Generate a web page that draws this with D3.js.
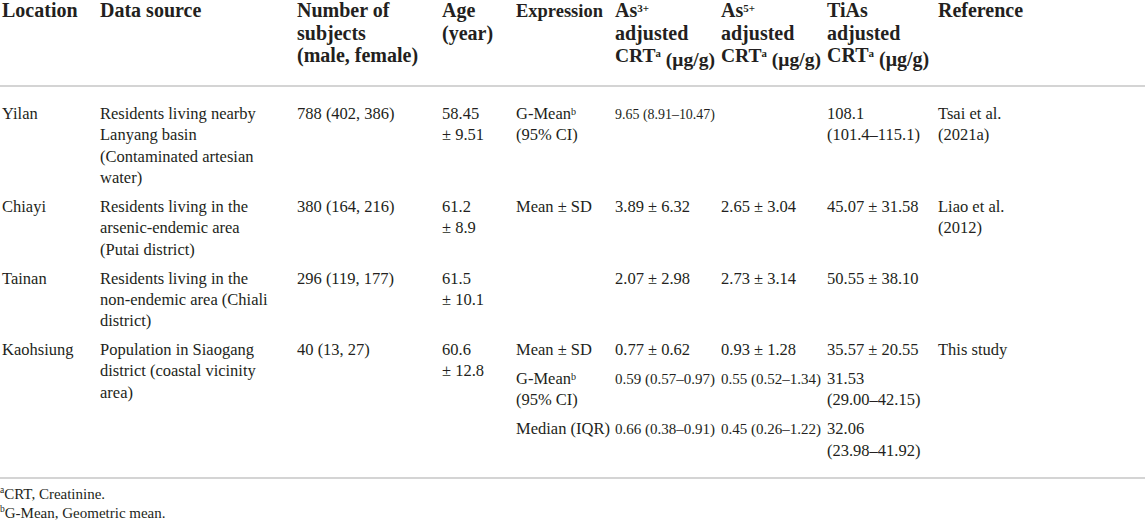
<!DOCTYPE html>
<html>
<head>
<meta charset="utf-8">
<script src="https://cdn.jsdelivr.net/npm/d3@7"></script>
<style>
  html, body { margin: 0; padding: 0; background: #fff; }
  svg { display: block; }
  text { font-family: "Liberation Serif", "Times New Roman", serif; fill: #231f20; }
</style>
</head>
<body>
<svg id="chart" width="1145" height="523"></svg>
<script>
// ---------- DATA ----------
const columns = ["location", "source", "subjects", "age", "expression", "as3", "as5", "tias", "reference"];
const headers = [
  ["Location"],
  ["Data source"],
  ["Number of", "subjects", "(male, female)"],
  ["Age", "(year)"],
  ["Expression"],
  ["As^{3+}", "adjusted", "CRT^{a} (μg/g)"],
  ["As^{5+}", "adjusted", "CRT^{a} (μg/g)"],
  ["TiAs", "adjusted", "CRT^{a} (μg/g)"],
  ["Reference"]
];
const locations = ["Yilan", "Chiayi", "Tainan", "Kaohsiung"];
const dataSources = [
  ["Residents living nearby", "Lanyang basin", "(Contaminated artesian", "water)"],
  ["Residents living in the", "arsenic-endemic area", "(Putai district)"],
  ["Residents living in the", "non-endemic area (Chiali", "district)"],
  ["Population in Siaogang", "district (coastal vicinity", "area)"]
];
const subjects = ["788 (402, 386)", "380 (164, 216)", "296 (119, 177)", "40 (13, 27)"];
const ages = [["58.45", "± 9.51"], ["61.2", "± 8.9"], ["61.5", "± 10.1"], ["60.6", "± 12.8"]];
// per location: list of sub-rows, each sub-row a list of lines
const expressions = [
  [["G-Mean^{b}", "(95% CI)"]],
  [["Mean ± SD"]],
  [[]],
  [["Mean ± SD"], ["G-Mean^{b}", "(95% CI)"], ["Median (IQR)"]]
];
const as3Values = [
  [["9.65 (8.91–10.47)"]],
  [["3.89 ± 6.32"]],
  [["2.07 ± 2.98"]],
  [["0.77 ± 0.62"], ["0.59 (0.57–0.97)"], ["0.66 (0.38–0.91)"]]
];
const as5Values = [
  [[]],
  [["2.65 ± 3.04"]],
  [["2.73 ± 3.14"]],
  [["0.93 ± 1.28"], ["0.55 (0.52–1.34)"], ["0.45 (0.26–1.22)"]]
];
const tiasValues = [
  [["108.1", "(101.4–115.1)"]],
  [["45.07 ± 31.58"]],
  [["50.55 ± 38.10"]],
  [["35.57 ± 20.55"], ["31.53", "(29.00–42.15)"], ["32.06", "(23.98–41.92)"]]
];
const references = [["Tsai et al.", "(2021a)"], ["Liao et al.", "(2012)"], [], ["This study"]];
const footnotes = ["^{a}CRT, Creatinine.", "^{b}G-Mean, Geometric mean."];

// ---------- LAYOUT ----------
const W = 1145, H = 523;
const svg = d3.select("#chart");
const colStarts = [2, 100, 297, 442, 516, 615, 721, 827, 938];
const colX = d3.scaleOrdinal().domain(columns).range(colStarts);
const bodyPad = { expression: 3 };
function colLimit(c, pad) {
  const i = columns.indexOf(c);
  return (i < columns.length - 1 ? colStarts[i + 1] : W) - colStarts[i] - pad;
}

const headStep = 22.5, headY0 = 17;
const bodyStep = 21.3, rowGap = 7.7, bodyY0 = 119;
const headRuleY = 86, bottomRuleY = 478;

function richText(sel, str, supSize) {
  const parts = str.split(/(\^\{[^}]*\})/).filter(s => s.length);
  let pendingDy = null;
  parts.forEach(p => {
    const m = p.match(/^\^\{([^}]*)\}$/);
    if (m) {
      sel.append("tspan").attr("dy", "-0.42em").attr("font-size", supSize).text(m[1]);
      pendingDy = "0.42em";
    } else {
      const t = sel.append("tspan").text(p);
      if (pendingDy) { t.attr("dy", pendingDy); pendingDy = null; }
    }
  });
}

function drawLines(lines, col, y, step, size, weight, supSize, pad) {
  const maxW = colLimit(col, pad);
  lines.forEach((ln, i) => {
    const t = svg.append("text")
      .attr("x", colX(col)).attr("y", y + i * step)
      .attr("font-size", size).attr("font-weight", weight);
    richText(t, ln, supSize);
    const w = t.node().getComputedTextLength();
    if (w > maxW) {
      const k = maxW / w;
      t.attr("font-size", size * k);
      t.selectAll("tspan").filter(function () { return this.getAttribute("font-size"); })
        .attr("font-size", supSize * k);
    }
  });
}

// header
headers.forEach((h, i) => drawLines(h, columns[i], headY0, headStep, 20, "bold", 11, columns[i] === "expression" ? 12 : 6));

svg.append("line").attr("x1", 0).attr("x2", W).attr("y1", headRuleY).attr("y2", headRuleY)
  .attr("stroke", "#c6c6c6").attr("stroke-width", 1.4);

// body
let cursor = bodyY0;
locations.forEach((loc, r) => {
  const rowTop = cursor;
  const simple = [
    ["location", [loc]],
    ["source", dataSources[r]],
    ["subjects", [subjects[r]]],
    ["age", ages[r]],
    ["reference", references[r]]
  ];
  simple.forEach(([c, lines]) => drawLines(lines, c, rowTop, bodyStep, 16.5, "normal", 10, bodyPad[c] ?? 6));
  let sub = rowTop;
  expressions[r].forEach((ex, s) => {
    const cells = [["expression", ex], ["as3", as3Values[r][s]], ["as5", as5Values[r][s]], ["tias", tiasValues[r][s]]];
    cells.forEach(([c, lines]) => drawLines(lines, c, sub, bodyStep, 16.5, "normal", 10, bodyPad[c] ?? 6));
    const n = Math.max(1, d3.max(cells, d => d[1].length));
    sub += n * bodyStep + rowGap;
  });
  const simpleLines = d3.max(simple, d => d[1].length);
  cursor = Math.max(sub, rowTop + simpleLines * bodyStep + rowGap);
});

svg.append("line").attr("x1", 0).attr("x2", W).attr("y1", bottomRuleY).attr("y2", bottomRuleY)
  .attr("stroke", "#c6c6c6").attr("stroke-width", 1.4);

// footnotes
footnotes.forEach((f, i) => {
  const t = svg.append("text").attr("x", 0).attr("y", 497 + i * 19).attr("font-size", 15);
  richText(t, f, 9.5);
});
</script>
</body>
</html>
